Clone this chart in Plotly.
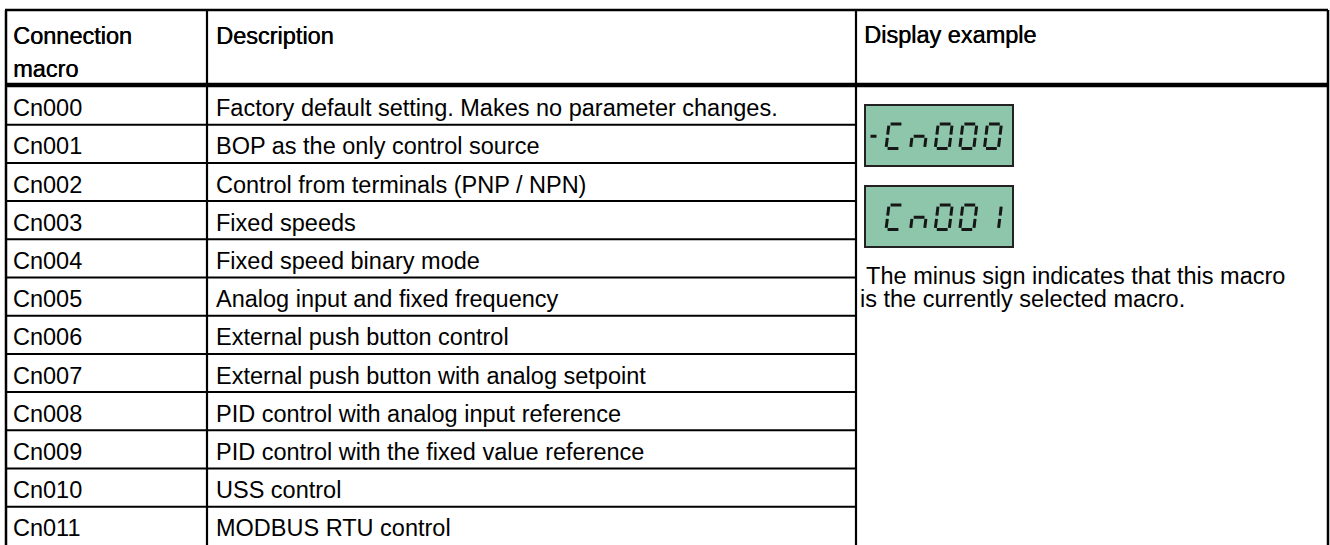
import plotly.graph_objects as go

# ---------------- data ----------------
headers = ["Connection<br>macro", "Description", "Display example"]
macros = ["Cn000", "Cn001", "Cn002", "Cn003", "Cn004", "Cn005",
          "Cn006", "Cn007", "Cn008", "Cn009", "Cn010", "Cn011"]
descriptions = [
    "Factory default setting. Makes no parameter changes.",
    "BOP as the only control source",
    "Control from terminals (PNP / NPN)",
    "Fixed speeds",
    "Fixed speed binary mode",
    "Analog input and fixed frequency",
    "External push button control",
    "External push button with analog setpoint",
    "PID control with analog input reference",
    "PID control with the fixed value reference",
    "USS control",
    "MODBUS RTU control",
]
display_examples = ["-Cn000", " Cn001"]
note_lines = [" The minus sign indicates that this macro",
              "is the currently selected macro."]

# ---------------- layout constants ----------------
W, H = 1330, 545
FONT = "Liberation Sans, Arial, sans-serif"
FS = 23.5
left, right, top = 6, 1328, 10
col1, col2 = 207, 856
head_line = 85
row0 = 86.5
pitch = 38.2
LCD_FILL = "#8EC6AB"
SEG = "#161616"

shapes = []
annots = []

def line(x0, y0, x1, y1, w=2, color="black"):
    shapes.append(dict(type="line", xref="x", yref="y", x0=x0, y0=y0, x1=x1, y1=y1,
                       line=dict(color=color, width=w), layer="above"))

def text(x, y, s, size=FS, shadow=None):
    f = dict(family=FONT, size=size, color="black")
    if shadow:
        f["shadow"] = shadow
    annots.append(dict(x=x, y=y, xref="x", yref="y", text=s, showarrow=False,
                       xanchor="left", yanchor="middle", align="left",
                       font=f, borderpad=0))

# borders
line(left - 1, top, right, top, 2.5)
line(left, top, left, H + 5, 2.5)
line(right, top, right, H + 5, 2.5)
line(col1, top, col1, H + 5, 2.2)
line(col2, top, col2, H + 5, 2.2)
line(left - 1, head_line, right, head_line, 4.5)
for i in range(1, len(macros)):
    y = row0 + pitch * i
    line(left, y, col2, y, 2)

# header texts
hshadow = "0.45px 0 0 #000"
hl = headers[0].split("<br>")
text(12, 44 - 8.3, hl[0], shadow=hshadow)
text(12, 77 - 8.3, hl[1], shadow=hshadow)
text(215, 44 - 8.3, headers[1], shadow=hshadow)
text(863, 43 - 8.3, headers[2], shadow=hshadow)

# rows
for i, (m, d) in enumerate(zip(macros, descriptions)):
    yc = row0 + pitch * (i + 0.5) + 2.5
    text(12, yc, m)
    text(215, yc, d)

# LCD displays (seven-segment rendering of the example strings)
SEGMENTS = {"C": "adef", "n": "ceg", "0": "abcdef", "1": "bc", " ": ""}
box_tops = [105, 186]
for k, s in enumerate(display_examples):
    bt = box_tops[k]
    shapes.append(dict(type="rect", xref="x", yref="y", x0=865, x1=1013,
                       y0=bt, y1=bt + 61, fillcolor=LCD_FILL,
                       line=dict(color="#222", width=2), layer="above"))
    T = bt + 19
    Hh = 24.5
    B = T + Hh
    M = (T + B) / 2
    Wd = 14
    slant = 3.0
    g = 1.6

    def P(L, x, y):
        return L + x + slant * (B - y) / Hh, y

    chars = s[1:]
    if s[0] == "-":
        x0, y0 = P(863, 6, M)
        x1, y1 = P(863, 12, M)
        line(x0, y0, x1, y1, 3, SEG)
    for ci, ch in enumerate(chars):
        L = 886 + 24.6 * ci
        segdef = {
            "a": ((g, T), (Wd - g, T)),
            "b": ((Wd, T + g), (Wd, M - g)),
            "c": ((Wd, M + g), (Wd, B - g)),
            "d": ((g, B), (Wd - g, B)),
            "e": ((0, M + g), (0, B - g)),
            "f": ((0, T + g), (0, M - g)),
            "g": ((g, M), (Wd - g, M)),
        }
        for sg in SEGMENTS.get(ch, ""):
            (ax, ay), (bx, by) = segdef[sg]
            X0, Y0 = P(L, ax, ay)
            X1, Y1 = P(L, bx, by)
            line(X0, Y0, X1, Y1, 3, SEG)

# note text
text(859, 284 - 8.3, note_lines[0])
text(859, 307.5 - 8.3, note_lines[1])

fig = go.Figure()
fig.update_layout(
    width=W, height=H,
    margin=dict(l=0, r=0, t=0, b=0),
    paper_bgcolor="white", plot_bgcolor="white",
    xaxis=dict(range=[0, W], visible=False, fixedrange=True),
    yaxis=dict(range=[H, 0], visible=False, fixedrange=True),
    shapes=shapes, annotations=annots, showlegend=False,
)
fig.write_html(
    "out.html",
    config={"displayModeBar": False, "staticPlot": True},
    post_script="document.body.style.margin='0';"
                "document.documentElement.style.overflow='hidden';"
                "document.body.style.overflow='hidden';",
)
